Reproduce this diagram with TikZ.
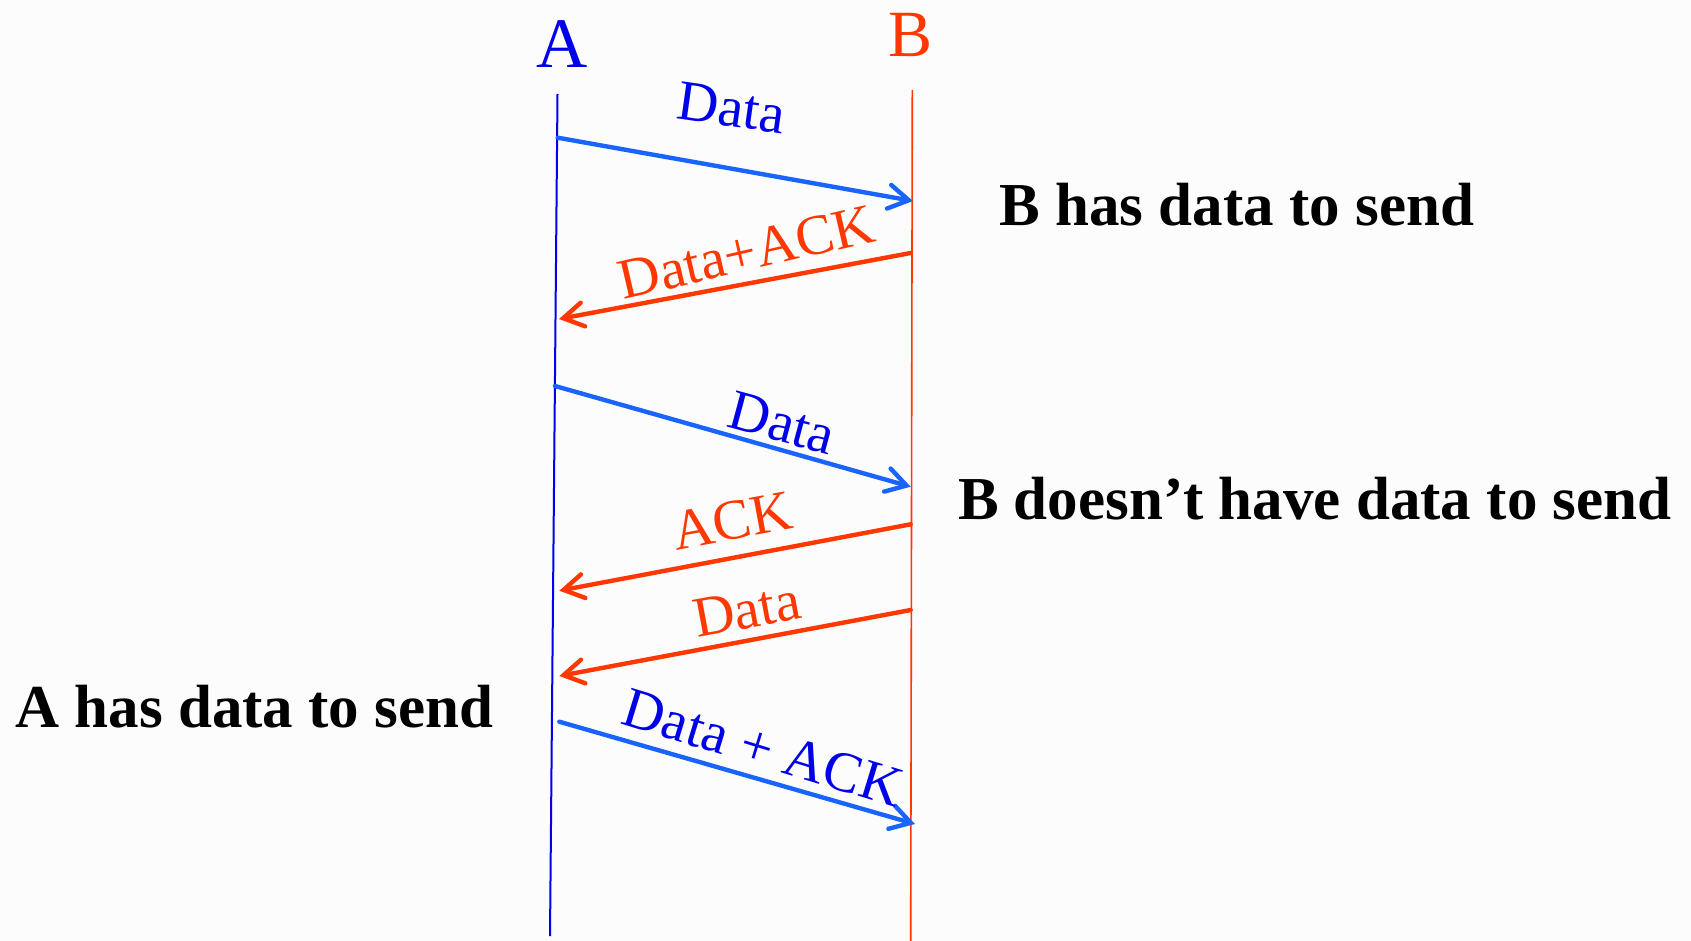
\documentclass[tikz,border=0pt]{standalone}
\usepackage{fontspec}
\setmainfont{Liberation Serif}
\usetikzlibrary{arrows.meta}

\definecolor{msgblue}{RGB}{25,100,255}
\definecolor{txtblue}{RGB}{0,0,235}
\definecolor{msgred}{RGB}{255,55,0}

\tikzset{
  lifeline/.style={line width=1pt},
  msg/.style={line width=2.2pt, line cap=round,
    -{Straight Barb[length=10pt,width=12pt,line cap=round]}},
  msglabel/.style={inner sep=0pt, font=\fontsize{28.5pt}{30pt}\selectfont},
  note/.style={inner sep=0pt, anchor=base west,
    font=\fontsize{30.5pt}{32pt}\selectfont\bfseries}
}

\begin{document}
\begin{tikzpicture}[x=0.5pt,y=-0.5pt]
  \useasboundingbox[fill={rgb,255:red,252;green,252;blue,252}] (0,0) rectangle (1691,941);

  % Lifelines
  \node[txtblue, inner sep=0pt, font=\fontsize{35.5pt}{36pt}\selectfont] (A) at (562,44) {A};
  \node[msgred, inner sep=0pt, font=\fontsize{33pt}{34pt}\selectfont] (B) at (910,35) {B};
  \coordinate (Atop) at (557.5,94);
  \coordinate (Abot) at (550,936);
  \coordinate (Btop) at (912.3,90);
  \coordinate (Bbot) at (910.7,941);
  \draw[lifeline, txtblue] (Atop) -- (Abot);
  \draw[lifeline, msgred, line width=0.8pt] (Btop) -- (Bbot);

  % End points of the messages
  \coordinate (a1) at (557.7,137.7);  \coordinate (b1) at (913,201);
  \coordinate (b2) at (910.7,253);    \coordinate (a2) at (559,319);
  \coordinate (a3) at (555,386);      \coordinate (b3) at (910.7,486.7);
  \coordinate (b4) at (910.7,524.3);  \coordinate (a4) at (559.3,590.7);
  \coordinate (b5) at (910.7,610);    \coordinate (a5) at (559.3,676);
  \coordinate (a6) at (559.3,721.7);  \coordinate (b6) at (915,824);

  % Messages
  \draw[msg, msgblue] (a1) -- (b1);
  \node[msglabel, txtblue, rotate=-8] (l1) at (731.7,108) {Data};

  \draw[msg, msgred] (b2) -- (a2);
  \node[msglabel, msgred, rotate=13] (l2) at (746.5,252) {Data+ACK};

  \draw[msg, msgblue] (a3) -- (b3);
  \node[msglabel, txtblue, rotate=-15] (l3) at (782,423) {Data};

  \draw[msg, msgred] (b4) -- (a4);
  \node[msglabel, msgred, rotate=10.5] (l4) at (732,521) {ACK};

  \draw[msg, msgred] (b5) -- (a5);
  \node[msglabel, msgred, rotate=10.5] (l5) at (747,610) {Data};

  \draw[msg, msgblue] (a6) -- (b6);
  \node[msglabel, txtblue, rotate=-17] (l6) at (763,748) {Data + ACK};

  % Side notes
  \node[note] (nB1) at (999,226) {B has data to send};
  \node[note] (nB2) at (957.6,519) {B doesn’t have data to send};
  \node[note] (nA) at (15,727) {A has data to send};
\end{tikzpicture}
\end{document}
